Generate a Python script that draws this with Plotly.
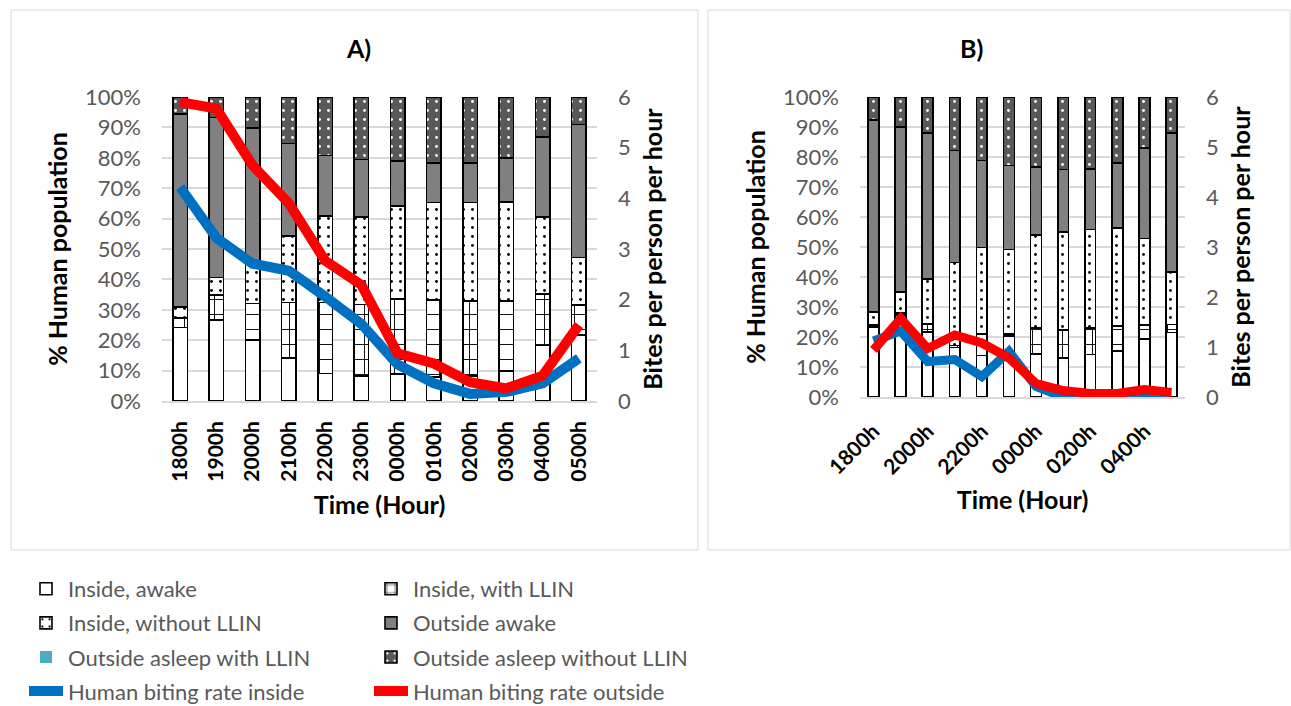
import plotly.graph_objects as go

W, H = 1291, 706

hours = ["1800h", "1900h", "2000h", "2100h", "2200h", "2300h",
         "0000h", "0100h", "0200h", "0300h", "0400h", "0500h"]

# Panel A: share of the human population (%) in each location/state
a_inside_awake = [24.2, 26.6, 20.0, 14.2, 9.1, 8.3, 8.8, 7.8, 8.3, 9.9, 18.2, 21.7]
a_inside_llin = [3.2, 8.2, 12.1, 18.2, 23.3, 23.5, 24.7, 25.4, 24.6, 23.0, 17.0, 9.8]
a_inside_no_llin = [3.6, 5.8, 13.6, 21.9, 28.4, 28.7, 30.7, 32.1, 32.4, 32.6, 25.4, 15.7]
a_outside_awake = [63.5, 52.6, 44.2, 30.4, 20.0, 19.0, 14.7, 12.9, 12.9, 14.5, 26.3, 43.7]
a_outside_asleep_llin = [0] * 12
a_outside_asleep_no_llin = [5.5, 6.8, 10.1, 15.3, 19.2, 20.5, 21.1, 21.8, 21.8, 20.0, 13.1, 9.1]
a_bites_inside = [4.22, 3.22, 2.71, 2.57, 2.06, 1.52, 0.72, 0.35, 0.14, 0.18, 0.35, 0.84]
a_bites_outside = [5.9, 5.77, 4.65, 3.9, 2.77, 2.29, 0.94, 0.74, 0.37, 0.25, 0.5, 1.5]

# Panel B
b_inside_awake = [23.3, 27.2, 21.7, 16.5, 13.9, 20.3, 14.3, 13.1, 14.2, 15.3, 19.4, 21.5]
b_inside_llin = [0.8, 0.8, 2.7, 0.7, 7.2, 0.8, 8.7, 9.3, 8.9, 8.4, 4.7, 2.7]
b_inside_no_llin = [4.2, 7.0, 15.0, 27.6, 28.7, 28.1, 31.1, 32.6, 32.8, 32.6, 28.7, 17.5]
b_outside_awake = [64.1, 55.0, 48.6, 37.4, 29.1, 28.0, 22.6, 20.9, 20.2, 21.7, 30.2, 46.3]
b_outside_asleep_llin = [0] * 12
b_outside_asleep_no_llin = [7.6, 10.0, 12.0, 17.8, 21.1, 22.8, 23.3, 24.1, 23.9, 22.0, 17.0, 12.0]
b_bites_inside = [1.12, 1.32, 0.71, 0.75, 0.41, 0.91, 0.21, 0.0, 0.0, 0.0, 0.02, 0.0]
b_bites_outside = [0.94, 1.57, 0.97, 1.24, 1.08, 0.78, 0.27, 0.13, 0.07, 0.07, 0.15, 0.09]

b_tick_hours = hours[::2]

FONT = "Lato"
GREY_TXT = "#595959"
GRID = "#d9d9d9"


def px_x(p):
    return p / W


def px_y(p):
    return 1 - p / H


series = [
    # name, A values, B values, marker style, legend column
    ("Inside, awake", a_inside_awake, b_inside_awake,
     dict(color="white"), "legend"),
    ("Inside, with LLIN", a_inside_llin, b_inside_llin,
     dict(color="white", pattern=dict(shape="+", fgcolor="black", bgcolor="white",
                                      size=15, solidity=0.12)), "legend2"),
    ("Inside, without LLIN", a_inside_no_llin, b_inside_no_llin,
     dict(color="white", pattern=dict(shape=".", fgcolor="black", bgcolor="white",
                                      size=9, solidity=0.08)), "legend"),
    ("Outside awake", a_outside_awake, b_outside_awake,
     dict(color="#808080"), "legend2"),
    ("Outside asleep with LLIN", a_outside_asleep_llin, b_outside_asleep_llin,
     dict(color="#4bacc6"), "legend"),
    ("Outside asleep without LLIN", a_outside_asleep_no_llin, b_outside_asleep_no_llin,
     dict(color="#595959", pattern=dict(shape=".", fgcolor="white", bgcolor="#595959",
                                        size=9, solidity=0.08)), "legend2"),
]

fig = go.Figure()

for name, a_vals, b_vals, style, leg in series:
    line = dict(color="black", width=1.6)
    if name == "Outside asleep with LLIN":
        line = dict(color="#4bacc6", width=0)
    fig.add_trace(go.Bar(
        x=hours, y=a_vals, name=name, xaxis="x", yaxis="y",
        marker=dict(**style, line=line), legend=leg, legendgroup=name,
    ))
    fig.add_trace(go.Bar(
        x=hours, y=b_vals, name=name, xaxis="x2", yaxis="y3",
        marker=dict(**style, line=line), legend=leg, legendgroup=name,
        showlegend=False,
    ))

lines = [
    ("Human biting rate inside", a_bites_inside, b_bites_inside, "#0070c0", "legend"),
    ("Human biting rate outside", a_bites_outside, b_bites_outside, "#ff0000", "legend2"),
]
for name, a_vals, b_vals, color, leg in lines:
    fig.add_trace(go.Scatter(
        x=hours, y=a_vals, name=name, mode="lines", xaxis="x", yaxis="y2",
        line=dict(color=color, width=10), legend=leg, legendgroup=name,
    ))
    fig.add_trace(go.Scatter(
        x=hours, y=b_vals, name=name, mode="lines", xaxis="x2", yaxis="y4",
        line=dict(color=color, width=9), legend=leg, legendgroup=name,
        showlegend=False,
    ))

tick_font = dict(family=FONT, size=22, color=GREY_TXT)
title_font = dict(family=FONT, size=25, color="black", weight="bold")
xtick_font = dict(family=FONT, size=21, color="black", weight="bold")

common_y = dict(showgrid=True, gridcolor=GRID, gridwidth=1.5, zeroline=False,
                showline=False, ticks="", tickfont=tick_font, ticklabelstandoff=20,
                automargin=False)
common_y2 = dict(showgrid=False, zeroline=False, showline=False, ticks="",
                 tickfont=tick_font, ticklabelstandoff=20, range=[0, 6], dtick=1,
                 side="right", automargin=False)
common_x = dict(type="category", categoryorder="array", categoryarray=hours,
                range=[-0.5, 11.5], showline=True, linecolor=GRID, linewidth=1.5,
                showgrid=False, ticks="", automargin=False)

legend_common = dict(
    orientation="v", bgcolor="rgba(0,0,0,0)",
    font=dict(family=FONT, size=22, color=GREY_TXT),
    tracegroupgap=2.5, itemwidth=34, yanchor="top", xanchor="left",
    traceorder="grouped",
)

fig.update_layout(
    template="none",
    width=W, height=H,
    margin=dict(l=0, r=0, t=0, b=0, autoexpand=False),
    paper_bgcolor="white", plot_bgcolor="white",
    barmode="stack", bargap=0.6,
    font=dict(family=FONT),
    xaxis=dict(domain=[px_x(162), px_x(597)], anchor="y",
               tickangle=-90, tickfont=xtick_font, ticklabelstandoff=10,
               title=dict(text="Time (Hour)", font=title_font, standoff=16),
               **common_x),
    yaxis=dict(domain=[px_y(401), px_y(97)], anchor="x", range=[0, 100], dtick=10,
               ticksuffix="%",
               title=dict(text="% Human population", font=title_font, standoff=10),
               **common_y),
    yaxis2=dict(overlaying="y", anchor="x",
                title=dict(text="Bites per person per hour", font=title_font, standoff=14),
                **common_y2),
    xaxis2=dict(domain=[px_x(860), px_x(1185)], anchor="y3",
                tickangle=-45, tickvals=b_tick_hours,
                tickfont=dict(family=FONT, size=21, color="black", weight="bold"),
                ticklabelstandoff=12,
                title=dict(text="Time (Hour)", font=title_font, standoff=14),
                **common_x),
    yaxis3=dict(domain=[px_y(397), px_y(97)], anchor="x2", range=[0, 100], dtick=10,
                ticksuffix="%",
                title=dict(text="% Human population", font=title_font, standoff=10),
                **common_y),
    yaxis4=dict(overlaying="y3", anchor="x2",
                title=dict(text="Bites per person per hour", font=title_font, standoff=14),
                **common_y2),
    legend=dict(x=px_x(24), y=px_y(568), **legend_common),
    legend2=dict(x=px_x(369), y=px_y(568), **legend_common),
    showlegend=True,
)

# chart-area frames
fig.add_shape(type="rect", xref="paper", yref="paper",
              x0=px_x(11), x1=px_x(698), y0=px_y(550), y1=px_y(10),
              line=dict(color=GRID, width=1), layer="below")
fig.add_shape(type="rect", xref="paper", yref="paper",
              x0=px_x(708), x1=px_x(1290), y0=px_y(550), y1=px_y(10),
              line=dict(color=GRID, width=1), layer="below")

# panel titles
for label, xc in (("A)", 358), ("B)", 972)):
    fig.add_annotation(text=label, xref="paper", yref="paper", x=px_x(xc), y=px_y(48),
                       showarrow=False, xanchor="center", yanchor="middle",
                       font=dict(family=FONT, size=25, color="black", weight="bold"))

fig.write_html("out.html")
